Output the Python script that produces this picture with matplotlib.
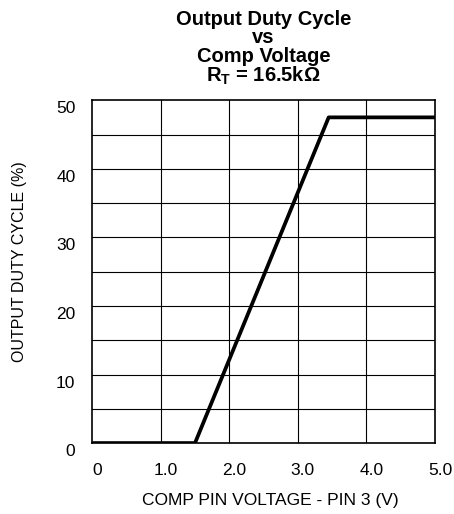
import matplotlib
matplotlib.use('Agg')
import matplotlib.pyplot as plt
import matplotlib.transforms as mtransforms

plt.rcParams['font.family'] = ['Liberation Sans', 'DejaVu Sans']

# curve
comp_voltage = [0.0, 1.5, 3.45, 5.0]
duty_cycle = [0.0, 0.0, 47.5, 47.5]

x_ticks = [0, 1, 2, 3, 4, 5]
x_labels = ['0', '1.0', '2.0', '3.0', '4.0', '5.0']
y_ticks = [0, 10, 20, 30, 40, 50]
y_grid = [5, 10, 15, 20, 25, 30, 35, 40, 45]

fig = plt.figure(figsize=(4.54, 5.14), dpi=100)
ax = fig.add_axes([0.203, 0.138, 0.755, 0.667])

ax.plot(comp_voltage, duty_cycle, color='black', linewidth=2.7, solid_capstyle='butt', zorder=3)

ax.set_xlim(0, 5)
ax.set_ylim(0, 50)
ax.set_xticks(x_ticks)
ax.set_xticklabels(x_labels)
ax.set_yticks(y_ticks)

# grid lines every 1 V and every 5 %
for xv in x_ticks[1:-1]:
    ax.axvline(xv, color='black', linewidth=0.8, zorder=1)
for yv in y_grid:
    ax.axhline(yv, color='black', linewidth=0.8, zorder=1)

for sp in ax.spines.values():
    sp.set_linewidth(1.2)

ax.tick_params(axis='both', length=0, labelsize=12.5)
ax.tick_params(axis='x', pad=14)
ax.tick_params(axis='y', pad=12)

# labels in the original sit slightly off their grid lines
dx = mtransforms.ScaledTranslation(5/100, 0, fig.dpi_scale_trans)
for lab in ax.get_xticklabels():
    lab.set_transform(lab.get_transform() + dx)
dy = mtransforms.ScaledTranslation(0, -7/100, fig.dpi_scale_trans)
for lab in ax.get_yticklabels():
    lab.set_transform(lab.get_transform() + dy)

ax.set_xlabel('COMP PIN VOLTAGE - PIN 3 (V)', fontsize=12.5, labelpad=14)
ax.xaxis.set_label_coords(0.52, -0.145)
ax.set_ylabel('OUTPUT DUTY CYCLE (%)', fontsize=11.5)
ax.yaxis.set_label_coords(-0.19, 0.53)

ax.set_title('Output Duty Cycle\nvs\nComp Voltage\nR$_\\mathregular{T}$ = 16.5k\u03a9',
             fontsize=14.5, fontweight='bold', linespacing=0.97, pad=13)

fig.savefig('out.png', dpi=100)
